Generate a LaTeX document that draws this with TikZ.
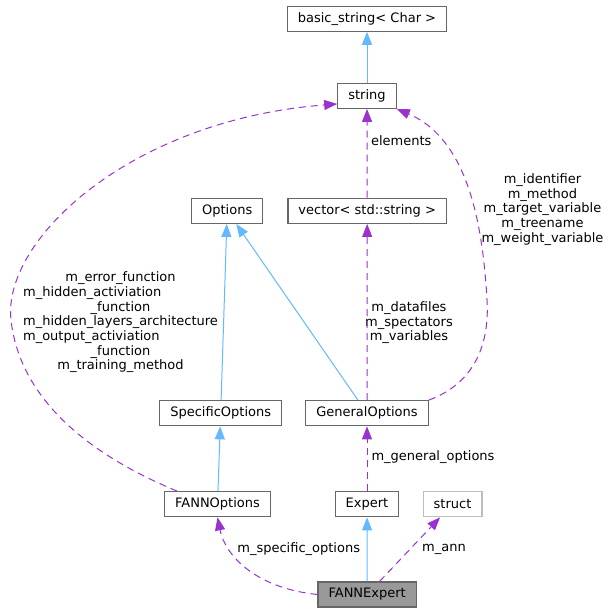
\documentclass[tikz,border=0pt]{standalone}
\usepackage{fontspec}
\setmainfont{DejaVu Sans}
\usepackage{calc}
\usetikzlibrary{arrows.meta}
\definecolor{colorInherit}{HTML}{63B8FF}
\definecolor{colorUsage}{HTML}{9A32CD}
\definecolor{colorBorder}{HTML}{666666}
\definecolor{colorBorderLight}{HTML}{BFBFBF}
\definecolor{colorFocus}{HTML}{999999}
\newcommand{\lline}[1]{\makebox[\widthof{m\_hidden\_layers\_architecture}][l]{#1}}

\begin{document}
\begin{tikzpicture}[x=1pt, y=-1pt, >={Triangle[length=13pt,width=10pt]},
  every node/.style={font=\fontsize{13}{14.7}\selectfont},
  classbox/.style={draw=colorBorder, line width=1.3pt, fill=white, minimum height=25pt, inner xsep=10.5pt, inner ysep=0pt},
  inherit/.style={->, draw=colorInherit, line width=1pt},
  usage/.style={->, draw=colorUsage, line width=1pt, dash pattern=on 7pt off 5pt},
  lbl/.style={align=center, inner sep=0pt}]
\useasboundingbox (0,0) rectangle (611,613);
\node[classbox] (basicstr) at (367,18.7) {basic\_string< Char >};
\node[classbox] (str) at (367,95.8) {string};
\node[classbox] (opts) at (227.2,210.8) {Options};
\node[classbox] (vecstr) at (367.2,210.8) {vector< std::string >};
\node[classbox] (specopts) at (220.7,413.2) {SpecificOptions};
\node[classbox] (genopts) at (367,413.2) {GeneralOptions};
\node[classbox] (fannopts) at (217.5,504.2) {FANNOptions};
\node[classbox] (expert) at (367,504.2) {Expert};
\node[classbox, draw=colorBorderLight] (ann) at (452.5,504.2) {struct};
\node[classbox, fill=colorFocus] (fannexpert) at (367.2,594.5) {FANNExpert};
% member labels
\node[lbl] (elemlbl) at (401.2,140.7) {elements};
\node[lbl] (idlbl) at (542.5,209.3) {m\_identifier\\m\_method\\m\_target\_variable\\m\_treename\\m\_weight\_variable};
\node[lbl] (fnlbl) at (120.5,322.3) {m\_error\_function\\\lline{m\_hidden\_activiation}\\\_function\\m\_hidden\_layers\_architecture\\\lline{m\_output\_activiation}\\\_function\\m\_training\_method};
\node[lbl] (varlbl) at (409,322.7) {m\_datafiles\\m\_spectators\\m\_variables};
\node[lbl] (genlbl) at (433,457) {m\_general\_options};
\node[lbl] (speclbl) at (298.7,549) {m\_specific\_options};
\node[lbl] (annlbl) at (444,549) {m\_ann};
% connectors
\draw[inherit] (str) -- (basicstr);
\draw[usage] (vecstr) -- (str);
\draw[usage] ([xshift=13pt]fannopts.north west) .. controls (90,455) and (20,400) .. (11,320) .. controls (2,240) and (130,120) .. ([yshift=5pt]str.south west);
\draw[usage] (genopts.north east) .. controls (470,385) and (490,350) .. (487,300) .. controls (483,230) and (470,140) .. (str.south east);
\draw[inherit] (specopts) -- (opts);
\draw[inherit] (genopts) -- (opts);
\draw[usage] (genopts) -- (vecstr);
\draw[inherit] (fannopts) -- (specopts);
\draw[usage] (expert) -- (genopts);
\draw[usage] (fannexpert.west) .. controls (255,588) and (225,555) .. (fannopts.south);
\draw[inherit] (fannexpert) -- (expert);
\draw[usage] (fannexpert) -- (ann);
\end{tikzpicture}
\end{document}
